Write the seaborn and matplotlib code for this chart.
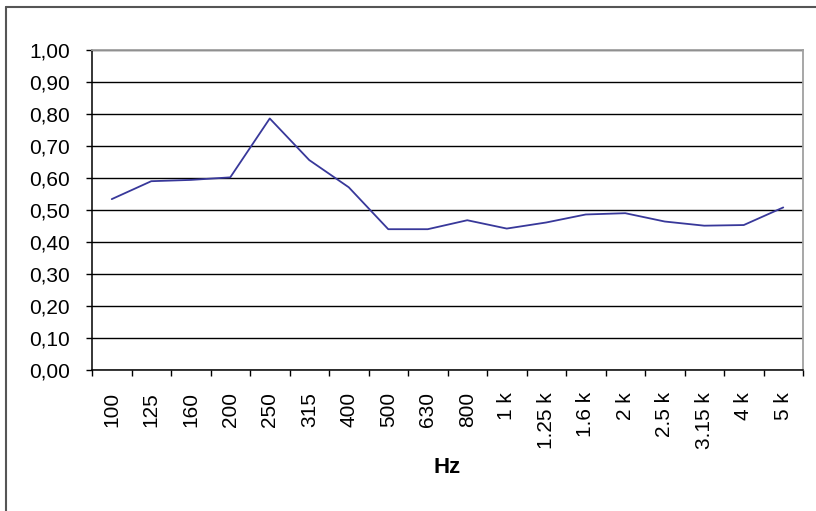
import numpy as np
import pandas as pd
import matplotlib
matplotlib.use('Agg')
import matplotlib.pyplot as plt
import seaborn as sns
from matplotlib.lines import Line2D

categories = ['100', '125', '160', '200', '250', '315', '400', '500', '630', '800',
              '1 k', '1.25 k', '1.6 k', '2 k', '2.5 k', '3.15 k', '4 k', '5 k']
absorption = [0.534, 0.590, 0.594, 0.602, 0.786, 0.656, 0.571, 0.440, 0.440, 0.468,
              0.442, 0.461, 0.486, 0.490, 0.464, 0.451, 0.453, 0.508]
y_ticks = [0.0, 0.1, 0.2, 0.3, 0.4, 0.5, 0.6, 0.7, 0.8, 0.9, 1.0]
y_tick_labels = ['0,00', '0,10', '0,20', '0,30', '0,40', '0,50', '0,60', '0,70', '0,80', '0,90', '1,00']
x_title = 'Hz'

sns.set_theme(style='white')
plt.rcParams['font.family'] = ['Liberation Sans', 'DejaVu Sans']

W, H = 816, 511
fig = plt.figure(figsize=(W / 100, H / 100), dpi=100)
fig.patch.set_facecolor('white')

ax_left, ax_right, ax_top, ax_bottom = 92, 803, 50, 370
ax = fig.add_axes([ax_left / W, (H - ax_bottom) / H, (ax_right - ax_left) / W, (ax_bottom - ax_top) / H])
ax.set_facecolor('white')

df = pd.DataFrame({'pos': np.arange(len(categories)), 'value': absorption})
sns.lineplot(data=df, x='pos', y='value', ax=ax, color='#38389a', linewidth=1.3)

ax.set_xlim(-0.5, len(categories) - 0.5)
ax.set_ylim(0, 1)
ax.set_yticks(y_ticks)
ax.set_yticklabels(y_tick_labels, fontsize=15, color='black')
ax.yaxis.grid(True, color='black', linewidth=1.0)
ax.xaxis.grid(False)
ax.set_axisbelow(True)

ax.set_xticks(np.arange(len(categories)))
ax.set_xticklabels(categories, rotation=90, fontsize=15, color='black')
ax.set_xticks(np.arange(len(categories) + 1) - 0.5, minor=True)
ax.tick_params(axis='x', which='major', length=0, pad=15.8)
ax.tick_params(axis='x', which='minor', length=4.3, width=1.0, color='black', direction='out', bottom=True)
ax.tick_params(axis='y', which='major', length=4.3, width=1.0, color='black', direction='out', left=True, pad=11.5)

for side in ['left', 'bottom']:
    ax.spines[side].set_color('black')
    ax.spines[side].set_linewidth(1.1)
for side in ['top', 'right']:
    ax.spines[side].set_color('#a0a0a0')
    ax.spines[side].set_linewidth(1.3)
ax.spines['top'].set_zorder(3)

ax.set_ylabel('')
ax.set_xlabel(x_title, fontsize=16, fontweight='bold', color='black', va='center')
ax.xaxis.set_label_coords(0.5, (ax_bottom - 467) / (ax_bottom - ax_top))

# figure border (left and top only visible)
fig.add_artist(Line2D([6 / W, 6 / W], [0, 1 - 7 / H], transform=fig.transFigure, color='#555555', linewidth=1.5))
fig.add_artist(Line2D([6 / W, 1], [1 - 7 / H, 1 - 7 / H], transform=fig.transFigure, color='#555555', linewidth=1.5))

fig.savefig('out.png', dpi=100)
